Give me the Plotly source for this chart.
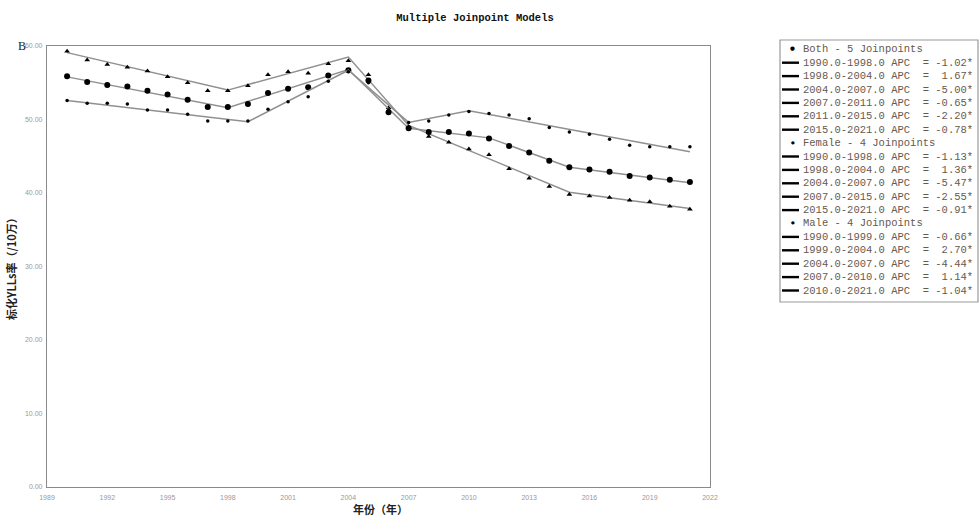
import plotly.graph_objects as go

# ---------------- data ----------------
years = list(range(1990, 2022))

both_obs = [55.9, 55.1, 54.7, 54.5, 53.9, 53.4, 52.7, 51.7, 51.7, 52.1, 53.6, 54.2, 54.4, 56.0, 56.7, 55.3,
            51.0, 48.8, 48.3, 48.3, 48.1, 47.4, 46.4, 45.5, 44.4, 43.5, 43.2, 42.9, 42.3, 42.1, 41.8, 41.5]
female_obs = [59.3, 58.1, 57.5, 57.1, 56.6, 55.8, 55.0, 53.9, 53.9, 54.6, 56.1, 56.5, 56.3, 57.6, 58.0, 56.1,
              51.6, 49.0, 47.7, 46.9, 46.0, 45.2, 43.3, 42.0, 40.9, 39.8, 39.6, 39.4, 39.0, 38.8, 38.2, 37.8]
male_obs = [52.6, 52.2, 52.2, 52.1, 51.3, 51.3, 50.7, 49.8, 49.8, 49.8, 51.4, 52.4, 53.1, 55.2, 56.5, 55.0,
            51.3, 49.6, 49.8, 50.6, 51.1, 50.8, 50.6, 50.1, 48.9, 48.3, 48.0, 47.3, 46.5, 46.3, 46.3, 46.3]

# fitted values at the joinpoints (segment ends)
both_jp_years = [1990, 1998, 2004, 2007, 2011, 2015, 2021]
both_jp_vals = [55.8, 51.6, 56.8, 48.8, 47.5, 43.5, 41.4]
female_jp_years = [1990, 1998, 2004, 2007, 2015, 2021]
female_jp_vals = [59.1, 54.0, 58.5, 49.2, 40.1, 37.9]
male_jp_years = [1990, 1999, 2004, 2007, 2010, 2021]
male_jp_vals = [52.6, 49.7, 56.7, 49.6, 51.2, 45.6]

both_apc = [-1.02, 1.67, -5.00, -0.65, -2.20, -0.78]
female_apc = [-1.13, 1.36, -5.47, -2.55, -0.91]
male_apc = [-0.66, 2.70, -4.44, 1.14, -1.04]

group_names = ["Both - 5 Joinpoints", "Female - 4 Joinpoints", "Male - 4 Joinpoints"]

y_ticks = [0, 10, 20, 30, 40, 50, 60]
x_ticks = list(range(1989, 2023, 3))

title_text = "Multiple Joinpoint Models"
x_title = "年份（年）"
y_title = "标化YLLs率（/10万）"
panel_label = "B"

# ---------------- figure ----------------
LINE = "#909090"
fig = go.Figure()

series = [
    (female_obs, female_jp_years, female_jp_vals, "triangle-up", 5),
    (both_obs, both_jp_years, both_jp_vals, "circle", 6),
    (male_obs, male_jp_years, male_jp_vals, "circle", 3.5),
]
for obs, jy, jv, sym, sz in series:
    fig.add_trace(go.Scatter(x=jy, y=jv, mode="lines",
                             line=dict(color=LINE, width=1.5), showlegend=False, hoverinfo="skip"))
    fig.add_trace(go.Scatter(x=years, y=obs, mode="markers",
                             marker=dict(symbol=sym, size=sz, color="black"), showlegend=False))

L, R, T, B = 47, 710, 46, 487
pw, ph = R - L, B - T


def px(xp):
    return (xp - L) / pw


def py(yp):
    return (B - yp) / ph


annotations = []
annotations.append(dict(text="<b>" + y_title + "</b>", x=px(11), y=py(266), xref="paper", yref="paper",
                        textangle=-90, showarrow=False, xanchor="center", yanchor="middle",
                        font=dict(family="Noto Sans CJK SC", size=11, color="#222")))
annotations.append(dict(text="<b>" + x_title + "</b>", x=px(380), y=py(509), xref="paper", yref="paper",
                        showarrow=False, xanchor="center", yanchor="middle",
                        font=dict(family="Noto Sans CJK SC", size=11, color="#222")))
annotations.append(dict(text=panel_label, x=px(22), y=py(46), xref="paper", yref="paper",
                        showarrow=False, xanchor="center", yanchor="middle",
                        font=dict(family="Liberation Serif", size=12, color="#222")))

# legend built from the data lists
legend_lines = []
groups = [
    (group_names[0], both_jp_years, both_apc, 8),
    (group_names[1], female_jp_years, female_apc, 6),
    (group_names[2], male_jp_years, male_apc, 6),
]
for name, jy, apcs, dsz in groups:
    legend_lines.append(("dot", name, dsz))
    for i, apc in enumerate(apcs):
        txt = f"{jy[i]:.1f}-{jy[i+1]:.1f} APC  = {apc:5.2f}*".replace(" ", "&nbsp;")
        legend_lines.append(("dash", txt, 0))

LEG_COLOR = "#67594e"
y0, dy = 49.3, 13.4
shapes = [dict(type="rect", xref="paper", yref="paper", x0=px(780), x1=px(978), y0=py(302), y1=py(40),
               line=dict(color="#9a9a9a", width=1.2), fillcolor="rgba(0,0,0,0)")]
for k, (kind, txt, dsz) in enumerate(legend_lines):
    yy = y0 + k * dy
    if kind == "dot":
        annotations.append(dict(text="●", x=px(792.5), y=py(yy - 1), xref="paper", yref="paper",
                                showarrow=False, xanchor="center", yanchor="middle",
                                font=dict(family="DejaVu Sans", size=dsz * 0.7, color="black")))
    else:
        shapes.append(dict(type="line", xref="paper", yref="paper", x0=px(782), x1=px(799),
                           y0=py(yy), y1=py(yy), line=dict(color="black", width=2.4)))
    annotations.append(dict(text=txt, x=px(801), y=py(yy), xref="paper", yref="paper",
                            showarrow=False, xanchor="left", yanchor="middle",
                            font=dict(family="Liberation Mono", size=10.5, color=LEG_COLOR)))

fig.update_layout(
    width=980, height=518,
    margin=dict(l=L, r=980 - R, t=T, b=518 - B),
    paper_bgcolor="white", plot_bgcolor="white",
    title=dict(text="<b>" + title_text + "</b>", x=475 / 980, y=1 - 17 / 518, xanchor="center", yanchor="middle",
               font=dict(family="Liberation Mono", size=10.5, color="#111")),
    xaxis=dict(range=[1989, 2022], tickvals=x_ticks, ticktext=[str(v) for v in x_ticks],
               showgrid=False, zeroline=False, showline=True, linecolor="#8a8a8a", linewidth=1.2, mirror=True,
               ticks="", tickfont=dict(family="Liberation Sans", size=7, color="#999"), ticklabelstandoff=3),
    yaxis=dict(range=[0, 60], tickvals=y_ticks, ticktext=[f"{v:.2f}" for v in y_ticks],
               showgrid=False, zeroline=False, showline=True, linecolor="#8a8a8a", linewidth=1.2, mirror=True,
               ticks="", tickfont=dict(family="Liberation Sans", size=7, color="#999"), ticklabelstandoff=2),
    annotations=annotations, shapes=shapes, showlegend=False,
)

fig.write_html("out.html")
